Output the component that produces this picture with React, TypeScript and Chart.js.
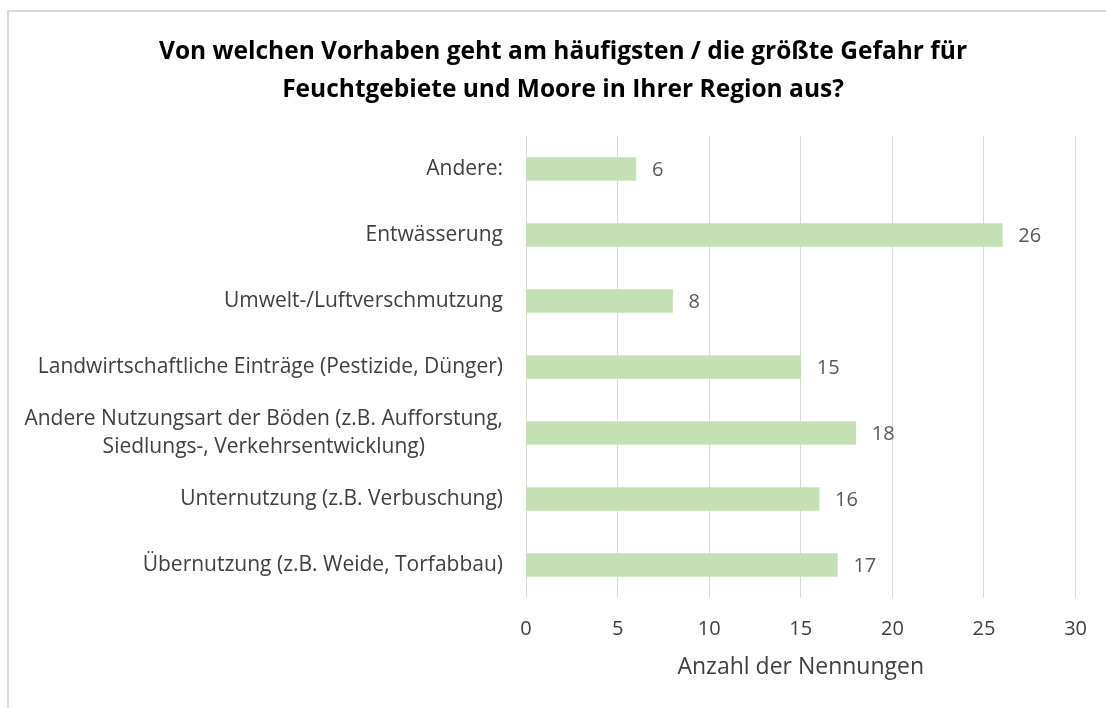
import React, { useEffect, useRef } from "react";
import { Chart, registerables } from "chart.js";

Chart.register(...registerables);

const categories: (string | string[])[] = [
  "Andere:",
  "Entwässerung",
  "Umwelt-/Luftverschmutzung",
  "Landwirtschaftliche Einträge (Pestizide, Dünger)",
  ["Andere Nutzungsart der Böden (z.B. Aufforstung,", "Siedlungs-, Verkehrsentwicklung)"],
  "Unternutzung (z.B. Verbuschung)",
  "Übernutzung (z.B. Weide, Torfabbau)",
];
const values: number[] = [6, 26, 8, 15, 18, 16, 17];
const titleLines: string[] = [
  "Von welchen Vorhaben geht am häufigsten / die größte Gefahr für",
  "Feuchtgebiete und Moore in Ihrer Region aus?",
];
const xAxisTitle = "Anzahl der Nennungen";
const xMin = 0;
const xMax = 30;
const xStep = 5;

const FONT = "'Open Sans', sans-serif";
const LABEL_SIZE = 21;

const labelPlugin = {
  id: "customLabels",
  afterDraw(chart: any) {
    const ctx = chart.ctx;
    const y = chart.scales.y;
    const x = chart.scales.x;
    ctx.save();
    ctx.font = `${LABEL_SIZE}px ${FONT}`;
    ctx.textBaseline = "middle";
    const rightEdge = chart.chartArea.left - 23;
    categories.forEach((c, i) => {
      const lines = Array.isArray(c) ? c : [c];
      const cy = y.getPixelForValue(i);
      const w = Math.max(...lines.map((l) => ctx.measureText(l).width));
      const lh = 28;
      ctx.fillStyle = "#404040";
      ctx.textAlign = "center";
      lines.forEach((l, k) => {
        const ly = cy + (k - (lines.length - 1) / 2) * lh;
        ctx.fillText(l, rightEdge - w / 2, ly);
      });
    });
    ctx.fillStyle = "#595959";
    ctx.textAlign = "left";
    ctx.font = `20px ${FONT}`;
    values.forEach((v, i) => {
      const px = x.getPixelForValue(v);
      const py = y.getPixelForValue(i);
      ctx.fillText(String(v), px + 16, py + 1);
    });
    ctx.restore();
  },
};

export default function App() {
  const ref = useRef<HTMLCanvasElement>(null);
  useEffect(() => {
    const chart = new Chart(ref.current!, {
      type: "bar",
      data: {
        labels: categories.map((c) => (Array.isArray(c) ? c.join(" ") : c)),
        datasets: [
          {
            data: values,
            backgroundColor: "#C5E0B4",
            barThickness: 23,
          },
        ],
      },
      options: {
        indexAxis: "y",
        animation: false,
        responsive: false,
        maintainAspectRatio: false,
        layout: { padding: { left: 50, right: 30, top: 0, bottom: 0 } },
        plugins: {
          legend: { display: false },
          tooltip: { enabled: false },
          title: {
            display: true,
            text: titleLines,
            color: "#000000",
            font: { family: FONT, size: 24.5, weight: "bold", lineHeight: 38 / 24.5 },
            padding: { top: 33, bottom: 27 },
          },
        },
        scales: {
          x: {
            min: xMin,
            max: xMax,
            afterFit(scale: any) {
              scale.height = 110;
            },
            ticks: {
              stepSize: xStep,
              color: "#404040",
              padding: 19,
              font: { family: FONT, size: 20 },
            },
            grid: { color: "#d9d9d9", drawTicks: false, lineWidth: 1 },
            border: { display: false },
            title: {
              display: true,
              text: xAxisTitle,
              color: "#404040",
              font: { family: FONT, size: 23 },
              padding: { top: 0, bottom: 27 },
            },
          },
          y: {
            afterFit(scale: any) {
              scale.width = 476;
            },
            ticks: { display: false },
            grid: { display: false },
            border: { display: false },
          },
        },
      },
      plugins: [labelPlugin],
    });
    return () => chart.destroy();
  }, []);

  return (
    <div style={{ position: "fixed", left: 0, top: 0, width: 1106, height: 708, background: "#fff" }}>
      <div
        style={{
          position: "absolute",
          left: 7,
          top: 10,
          right: -4,
          bottom: -4,
          borderTop: "2px solid #d9d9d9",
          borderLeft: "2px solid #d9d9d9",
        }}
      />
      <canvas ref={ref} width={1106} height={708} style={{ position: "absolute", left: 0, top: 0 }} />
    </div>
  );
}
